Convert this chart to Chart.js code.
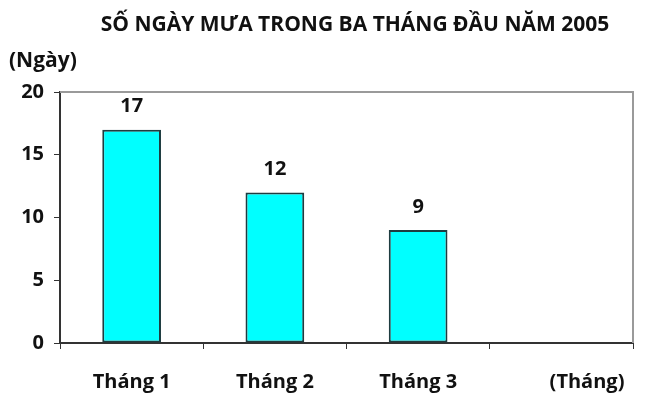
<!DOCTYPE html>
<html><head><meta charset="utf-8">
<script src="https://cdn.jsdelivr.net/npm/chart.js@4.4.0/dist/chart.umd.min.js"></script>
<style>html,body{margin:0;padding:0;background:#fff}#wrap{width:650px;height:402px}</style>
</head><body><div id="wrap"><canvas id="c"></canvas></div>
<script>
const categories = ['Tháng 1', 'Tháng 2', 'Tháng 3', ''];
const rainDays = [17, 12, 9, null];
const yTicks = [0, 5, 10, 15, 20];
const titleText = 'SỐ NGÀY MƯA TRONG BA THÁNG ĐẦU NĂM 2005';
const yUnit = '(Ngày)';
const xUnit = '(Tháng)';

const FONT = '"Open Sans", "DejaVu Sans", sans-serif';

const extras = {
  id: 'extras',
  afterDraw(chart) {
    const ctx = chart.ctx, a = chart.chartArea;
    ctx.save();
    ctx.strokeStyle = '#9a9a9a';
    ctx.lineWidth = 2;
    ctx.beginPath();
    ctx.moveTo(a.left, a.top);
    ctx.lineTo(a.right, a.top);
    ctx.lineTo(a.right, a.bottom);
    ctx.stroke();
    ctx.fillStyle = '#111';
    ctx.font = 'bold 21px ' + FONT;
    ctx.textAlign = 'center';
    ctx.textBaseline = 'middle';
    ctx.fillText(titleText, 355, 25);
    ctx.font = 'bold 21px ' + FONT;
    ctx.textAlign = 'left';
    ctx.fillText(yUnit, 9, 61);
    ctx.font = 'bold 20px ' + FONT;
    ctx.textAlign = 'center';
    ctx.fillText(xUnit, a.right - 46, 382);
    const meta = chart.getDatasetMeta(0);
    meta.data.forEach((bar, i) => {
      const v = rainDays[i];
      if (v == null) return;
      ctx.fillText(String(v), bar.x, bar.y - 23);
    });
    ctx.restore();
  }
};

new Chart(document.getElementById('c'), {
  type: 'bar',
  data: {
    labels: categories,
    datasets: [{
      data: rainDays,
      backgroundColor: '#00FFFF',
      borderColor: '#1e3c40',
      borderWidth: 2,
      borderSkipped: false,
      categoryPercentage: 0.82,
      barPercentage: 0.5
    }]
  },
  options: {
    responsive: true,
    maintainAspectRatio: false,
    animation: false,
    devicePixelRatio: 1,
    layout: { padding: { top: 92, right: 17, bottom: 8, left: 0 } },
    plugins: { legend: { display: false }, title: { display: false }, tooltip: { enabled: false } },
    scales: {
      x: {
        offset: true,
        grid: { display: true, drawOnChartArea: false, offset: true, tickLength: 6, color: '#333', lineWidth: 1 },
        border: { display: true, color: '#333', width: 2 },
        ticks: { color: '#111', font: { family: FONT, size: 20, weight: 'bold' }, padding: 21 },
        afterFit(scale) { scale.height = 51; }
      },
      y: {
        min: 0, max: 20,
        afterBuildTicks(scale) { scale.ticks = yTicks.map(v => ({ value: v })); },
        grid: { display: true, drawOnChartArea: false, tickLength: 6, color: '#333' },
        border: { display: true, color: '#333', width: 2 },
        afterFit(scale) { scale.width = 60; },
        ticks: { color: '#111', font: { family: FONT, size: 20, weight: 'bold' }, padding: 10 }
      }
    }
  },
  plugins: [extras]
});
</script></body></html>
